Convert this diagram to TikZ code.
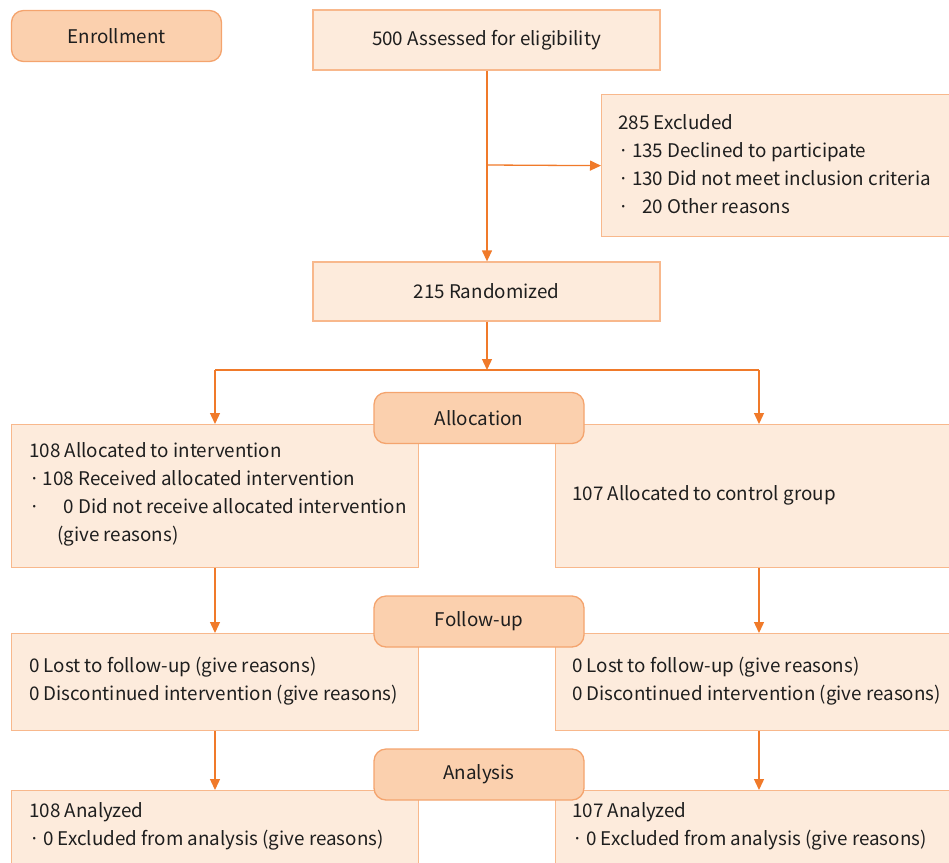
\documentclass[tikz,border=0pt]{standalone}
\usepackage{fontspec}
\setmainfont{Noto Sans CJK KR}
\usetikzlibrary{arrows.meta,calc}
\definecolor{pillfill}{HTML}{FBD0AE}
\definecolor{pilldraw}{HTML}{F4A46E}
\definecolor{boxfill}{HTML}{FDEBDC}
\definecolor{boxdraw}{HTML}{F8B88C}
\definecolor{arrcol}{HTML}{F07A2A}
\definecolor{txtcol}{HTML}{1E1E1E}
\newcommand{\bl}{\makebox[0.75em][l]{·}}
\newcommand{\nm}[2]{\makebox[#1][r]{#2}}
\begin{document}
\begin{tikzpicture}[x=1pt,y=-1pt,
  every node/.style={font=\fontsize{18.8}{28}\selectfont, text=txtcol},
  box/.style={draw=boxdraw, fill=boxfill, line width=1.3pt, rectangle, inner sep=0pt},
  pill/.style={draw=pilldraw, fill=pillfill, line width=1.3pt, rounded corners=12pt, minimum width=210pt, minimum height=51pt, inner sep=0pt},
  txt/.style={align=left, inner sep=0pt, anchor=west},
  arr/.style={draw=arrcol, line width=1.3pt, -{Triangle[length=11pt,width=10pt]}},
  ln/.style={draw=arrcol, line width=1.3pt}]
\useasboundingbox (0,0) rectangle (949,862);
% boxes
\node[box, minimum width=347pt, minimum height=60pt] (assess) at (486.5,40) {500 Assessed for eligibility};
\node[box, minimum width=348pt, minimum height=142pt, anchor=north west] (excl) at (601,94) {};
\node[txt] (excltxt) at (618,164) {285 Excluded\\\bl\nm{1.65em}{135} Declined to participate\\\bl\nm{1.65em}{130} Did not meet inclusion criteria\\\bl\nm{1.65em}{20} Other reasons};
\node[box, minimum width=347pt, minimum height=59pt] (rand) at (486.5,291.5) {215 Randomized};
\node[box, minimum width=407pt, minimum height=143pt, anchor=north west] (lalloc) at (11,424) {};
\node[txt] (lalloctxt) at (29,494) {108 Allocated to intervention\\\bl\nm{1.65em}{108} Received allocated intervention\\\bl\nm{1.65em}{0} Did not receive allocated intervention\\\hspace*{1.5em}(give reasons)};
\node[box, minimum width=394pt, minimum height=143pt, anchor=north west] (ralloc) at (555,424) {};
\node[txt] (ralloctxt) at (572,495) {107 Allocated to control group};
\node[box, minimum width=407pt, minimum height=97pt, anchor=north west] (lfol) at (11,633) {};
\node[txt] (lfoltxt) at (29,681) {0 Lost to follow-up (give reasons)\\0 Discontinued intervention (give reasons)};
\node[box, minimum width=394pt, minimum height=97pt, anchor=north west] (rfol) at (555,633) {};
\node[txt] (rfoltxt) at (572,681) {0 Lost to follow-up (give reasons)\\0 Discontinued intervention (give reasons)};
\node[box, minimum width=407pt, minimum height=90pt, anchor=north west] (lana) at (11,790) {};
\node[txt] (lanatxt) at (29,826) {108 Analyzed\\\bl 0 Excluded from analysis (give reasons)};
\node[box, minimum width=394pt, minimum height=90pt, anchor=north west] (rana) at (555,790) {};
\node[txt] (ranatxt) at (572,826) {107 Analyzed\\\bl 0 Excluded from analysis (give reasons)};
% connectors
\coordinate (br) at (487,165);
\coordinate (split) at (487,370);
\coordinate (lx) at (215,0);
\coordinate (rx) at (759,0);
\draw[arr] (assess.south -| br) -- (rand.north -| br);
\draw[arr] (br) -- (excl.west);
\draw[arr] (rand.south -| split) -- (split);
\draw[ln] (split -| lx) -- (split -| rx);
\draw[arr] (split -| lx) -- (lalloc.north -| lx);
\draw[arr] (split -| rx) -- (ralloc.north -| rx);
\draw[arr] (lalloc.south -| lx) -- (lfol.north -| lx);
\draw[arr] (ralloc.south -| rx) -- (rfol.north -| rx);
\draw[arr] (lfol.south -| lx) -- (lana.north -| lx);
\draw[arr] (rfol.south -| rx) -- (rana.north -| rx);
% pills
\node[pill] (enroll) at (116.5,36) {Enrollment};
\node[pill] (alloc) at (479,418) {Allocation};
\node[pill] (follow) at (479,621.5) {Follow-up};
\node[pill] (analysis) at (479,774.5) {Analysis};
\end{tikzpicture}
\end{document}
